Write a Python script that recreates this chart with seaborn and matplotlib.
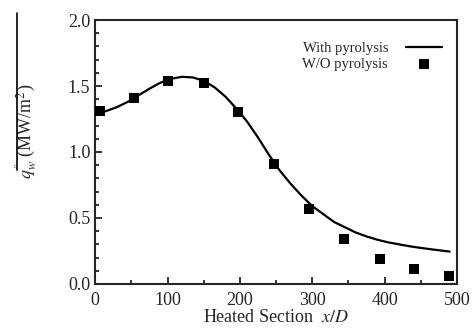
import matplotlib
matplotlib.use('Agg')
import matplotlib.pyplot as plt
import seaborn as sns
import pandas as pd
from matplotlib.ticker import MultipleLocator
from matplotlib.lines import Line2D

# Data
line_x = [5, 15, 30, 45, 60, 75, 90, 105, 120, 135, 150, 165, 180, 195, 210, 225,
          240, 255, 270, 285, 300, 315, 330, 345, 360, 375, 390, 405, 420, 435,
          450, 465, 480, 490]
line_q = [1.30, 1.31, 1.34, 1.38, 1.43, 1.48, 1.525, 1.555, 1.57, 1.565, 1.54,
          1.49, 1.42, 1.33, 1.23, 1.11, 0.98, 0.86, 0.76, 0.67, 0.59, 0.53, 0.47,
          0.43, 0.39, 0.36, 0.335, 0.315, 0.30, 0.285, 0.273, 0.262, 0.252, 0.245]
pts_x = [6, 54, 101, 150, 198, 247, 296, 344, 393, 440, 489]
pts_q = [1.31, 1.41, 1.54, 1.52, 1.30, 0.91, 0.57, 0.34, 0.19, 0.11, 0.06]

sns.set_style('ticks')
plt.rcParams['font.family'] = ['Liberation Serif', 'DejaVu Serif']
plt.rcParams['mathtext.fontset'] = 'stix'

fig = plt.figure(figsize=(4.76, 3.29), dpi=100)
ax = fig.add_axes([0.2, 0.137, 0.76, 0.802])

line_df = pd.DataFrame({'x': line_x, 'q': line_q})
pts_df = pd.DataFrame({'x': pts_x, 'q': pts_q})

sns.lineplot(data=line_df, x='x', y='q', ax=ax, color='black', lw=1.6,
             label='With pyrolysis')
sns.scatterplot(data=pts_df, x='x', y='q', ax=ax, color='black', marker='s',
                s=60, edgecolor='black', linewidth=0, label='W/O pyrolysis',
                zorder=3)

ax.set_xlim(0, 500)
ax.set_ylim(0, 2.0)
ax.xaxis.set_major_locator(MultipleLocator(100))
ax.xaxis.set_minor_locator(MultipleLocator(50))
ax.yaxis.set_major_locator(MultipleLocator(0.5))
ax.yaxis.set_minor_locator(MultipleLocator(0.1))
ax.set_yticklabels(['%.1f' % v for v in ax.get_yticks()])
ax.tick_params(which='both', direction='in', labelsize=13, width=1.3)
ax.tick_params(which='major', length=5)
ax.tick_params(which='minor', length=3)
ax.tick_params(axis='x', pad=6)
for s in ax.spines.values():
    s.set_linewidth(1.5)

ax.set_xlabel(r'Heated Section  $x/D$', fontsize=13, labelpad=0)
ax.set_ylabel(r"$q_w^{''}$ (MW/m$^2$)", fontsize=13)
ax.yaxis.set_label_coords(-0.155, 0.58)

leg = ax.legend(loc='upper right', bbox_to_anchor=(0.987, 0.955), frameon=False,
                fontsize=10.5, markerfirst=False, handlelength=2.5,
                borderpad=0.2, labelspacing=0.15, handletextpad=1.2)

# stray vertical rule left of the y label in the reference
fig.add_artist(Line2D([0.036, 0.036], [0.483, 0.96], color='black', lw=1.2,
                      transform=fig.transFigure))

fig.savefig('out.png', dpi=100)
